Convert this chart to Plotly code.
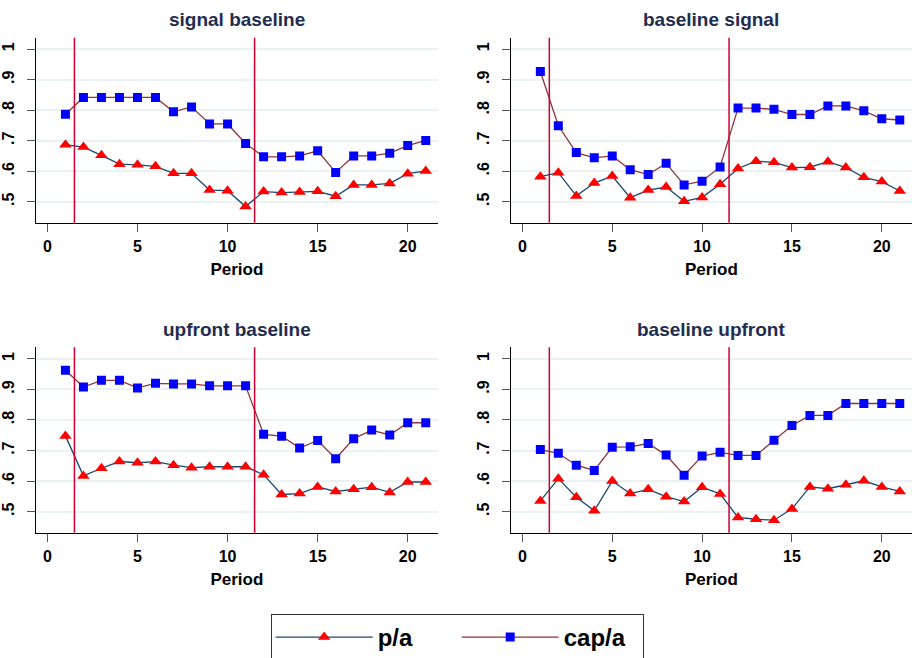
import plotly.graph_objects as go

periods = list(range(1, 22))
panel_titles = ["signal baseline", "baseline signal", "upfront baseline", "baseline upfront"]
breaks = [1.5, 11.5]

pa_signal_baseline = [0.687, 0.679, 0.652, 0.623, 0.621, 0.616, 0.593, 0.593, 0.538, 0.536, 0.484,
                      0.533, 0.530, 0.532, 0.534, 0.518, 0.555, 0.555, 0.560, 0.592, 0.601]
capa_signal_baseline = [0.787, 0.842, 0.842, 0.842, 0.842, 0.842, 0.795, 0.811, 0.755, 0.755, 0.691,
                        0.647, 0.647, 0.650, 0.667, 0.596, 0.650, 0.650, 0.659, 0.684, 0.701]

pa_baseline_signal = [0.582, 0.595, 0.519, 0.561, 0.584, 0.513, 0.538, 0.548, 0.501, 0.514, 0.557,
                      0.609, 0.633, 0.629, 0.612, 0.613, 0.631, 0.612, 0.580, 0.566, 0.535]
capa_baseline_signal = [0.927, 0.749, 0.661, 0.644, 0.650, 0.605, 0.589, 0.626, 0.555, 0.567, 0.614,
                        0.807, 0.807, 0.803, 0.786, 0.786, 0.814, 0.814, 0.798, 0.772, 0.768]

pa_upfront_baseline = [0.748, 0.617, 0.642, 0.664, 0.660, 0.664, 0.652, 0.644, 0.647, 0.647, 0.647,
                       0.621, 0.556, 0.559, 0.581, 0.566, 0.573, 0.580, 0.563, 0.597, 0.597]
capa_upfront_baseline = [0.963, 0.908, 0.930, 0.930, 0.905, 0.920, 0.918, 0.918, 0.912, 0.912, 0.912,
                         0.753, 0.747, 0.708, 0.733, 0.673, 0.739, 0.767, 0.751, 0.791, 0.791]

pa_baseline_upfront = [0.535, 0.608, 0.547, 0.503, 0.600, 0.559, 0.573, 0.549, 0.533, 0.580, 0.558,
                       0.481, 0.475, 0.472, 0.509, 0.581, 0.575, 0.588, 0.601, 0.581, 0.566]
capa_baseline_upfront = [0.703, 0.691, 0.652, 0.635, 0.711, 0.712, 0.723, 0.685, 0.619, 0.682, 0.694,
                         0.684, 0.684, 0.734, 0.782, 0.815, 0.815, 0.854, 0.854, 0.854, 0.854]

pa_series = [pa_signal_baseline, pa_baseline_signal, pa_upfront_baseline, pa_baseline_upfront]
capa_series = [capa_signal_baseline, capa_baseline_signal, capa_upfront_baseline, capa_baseline_upfront]

x_ticks = [0, 5, 10, 15, 20]
y_ticks = [0.5, 0.6, 0.7, 0.8, 0.9, 1.0]
y_ticklabels = [".5", ".6", ".7", ".8", ".9", "1"]

W, H = 912, 658
x_domains = [[35.7 / W, 438 / W], [510.7 / W, 1.0], [35.7 / W, 438 / W], [510.7 / W, 1.0]]
y_domains = [[(H - 222.7) / H, (H - 37.7) / H], [(H - 222.7) / H, (H - 37.7) / H],
             [(H - 532.7) / H, (H - 347.3) / H], [(H - 532.7) / H, (H - 347.3) / H]]
title_y = [(H - 19) / H, (H - 19) / H, (H - 329) / H, (H - 329) / H]

FONT = "Liberation Sans"
NAVY = "#1a476f"
MAROON = "#90353b"

fig = go.Figure()
layout = dict()
annotations = []
shapes = []

for i in range(4):
    sfx = "" if i == 0 else str(i + 1)
    xa, ya = "x" + sfx, "y" + sfx
    fig.add_trace(go.Scatter(
        x=periods, y=pa_series[i], mode="lines+markers", name="p/a",
        line=dict(color=NAVY, width=1.3),
        marker=dict(symbol="triangle-up", size=11, color="#ff0000"),
        xaxis=xa, yaxis=ya, showlegend=(i == 0), legendgroup="pa"))
    fig.add_trace(go.Scatter(
        x=periods, y=capa_series[i], mode="lines+markers", name="cap/a",
        line=dict(color=MAROON, width=1.3),
        marker=dict(symbol="square", size=9, color="#0000ff"),
        xaxis=xa, yaxis=ya, showlegend=(i == 0), legendgroup="capa"))

    layout["xaxis" + sfx] = dict(
        domain=x_domains[i], anchor=ya, range=[-0.65, 21.68],
        tickvals=x_ticks, ticks="outside", ticklen=8, tickcolor="#555555", tickwidth=1.3,
        showline=True, linecolor="#000000", linewidth=1.3, showgrid=False, zeroline=False,
        tickfont=dict(family=FONT, size=16, color="#000000", weight="bold"),
        ticklabelstandoff=1,
        title=dict(text="Period", font=dict(family=FONT, size=17, color="#000000", weight="bold"),
                   standoff=9))
    layout["yaxis" + sfx] = dict(
        domain=y_domains[i], anchor=xa, range=[0.431, 1.038],
        tickvals=y_ticks, ticktext=y_ticklabels, tickangle=-90,
        ticks="outside", ticklen=8, tickcolor="#555555", tickwidth=1.3,
        showline=True, linecolor="#000000", linewidth=1.3,
        showgrid=True, gridcolor="#eaf2f3", gridwidth=1.5, zeroline=False,
        tickfont=dict(family=FONT, size=16, color="#000000", weight="bold"),
        ticklabelstandoff=6)

    annotations.append(dict(
        text=panel_titles[i], xref="paper", yref="paper",
        x=(x_domains[i][0] + x_domains[i][1]) / 2, y=title_y[i],
        xanchor="center", yanchor="middle", showarrow=False,
        font=dict(family=FONT, size=19, color="#1f2d50", weight="bold")))

    for b in breaks:
        shapes.append(dict(type="line", xref=xa, yref=ya + " domain", x0=b, x1=b, y0=0, y1=1,
                           line=dict(color="#cc0033", width=1.5), layer="above"))

fig.update_layout(
    **layout,
    width=W, height=H,
    margin=dict(l=0, r=0, t=0, b=0, autoexpand=False),
    paper_bgcolor="#ffffff", plot_bgcolor="#ffffff",
    annotations=annotations, shapes=shapes,
    showlegend=True,
    legend=dict(orientation="h", x=270.7 / W, y=(H - 614) / H, xanchor="left", yanchor="top",
                bordercolor="#333333", borderwidth=1, bgcolor="#ffffff",
                font=dict(family=FONT, size=24, color="#000000", weight="bold"),
                itemwidth=97, entrywidth=74, tracegroupgap=0),
)

fig.write_html("out.html")
